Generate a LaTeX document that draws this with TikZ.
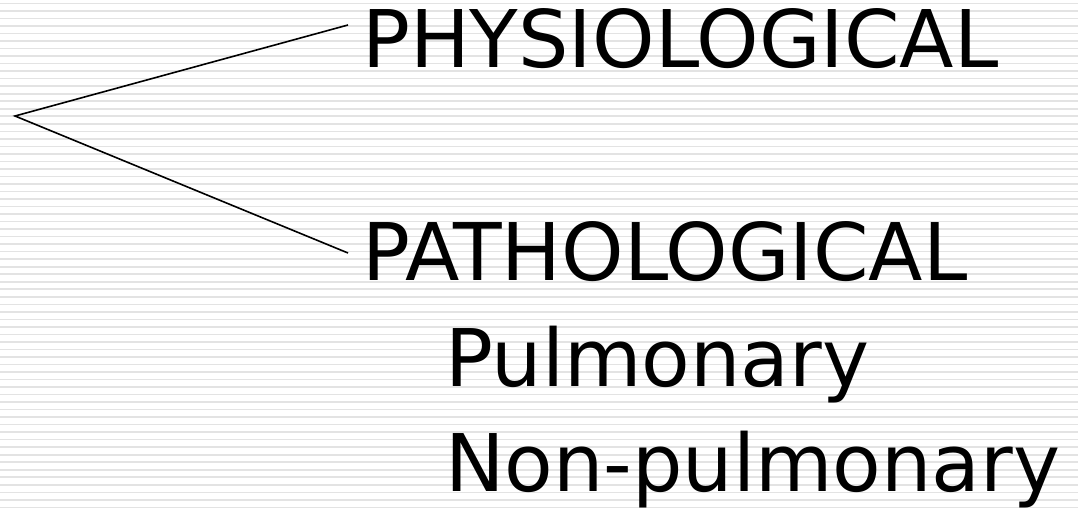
\documentclass[tikz,border=0pt]{standalone}
\usepackage{fontspec}
\setmainfont{DejaVu Sans}
\begin{document}
\begin{tikzpicture}[x=1pt,y=-1pt,
  lbl/.style={anchor=base west,inner sep=0pt,font=\fontsize{79.5}{90}\selectfont},
  conn/.style={line width=1.6pt,black},
  stripe/.style={line width=1.6pt,black!11}]
\fill[white] (0,0) rectangle (1078,508);
\useasboundingbox (0,0) rectangle (1078,508);
\foreach \k in {0,...,67} {
  \draw[stripe] (0,3.5+7.52*\k) -- (1078,3.5+7.52*\k);
}
\node[lbl] (phys) at (362,68) {PHYSIOLOGICAL};
\node[lbl] (path) at (362,280) {PATHOLOGICAL};
\node[lbl] (pulm) at (445,386) {Pulmonary};
\node[lbl] (nonp) at (445,491) {Non-pulmonary};
\coordinate (apex) at (15,116);
\coordinate (e1) at (348,25);
\coordinate (e2) at (348,253);
\draw[conn] (e1) -- (apex) -- (e2);
\end{tikzpicture}
\end{document}
